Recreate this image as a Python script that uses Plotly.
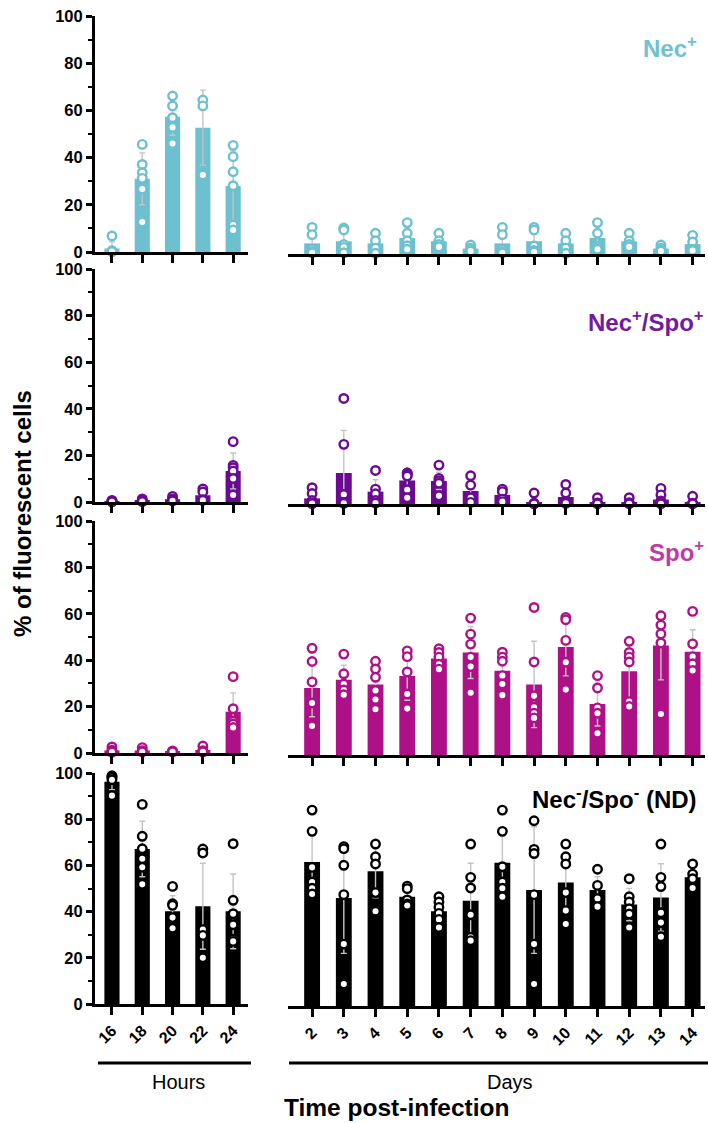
import plotly.graph_objects as go

# ---------------- data ----------------
hours = ["16", "18", "20", "22", "24"]
days = ["2", "3", "4", "5", "6", "7", "8", "9", "10", "11", "12", "13", "14"]

# Nec+
nec_h_mean = [1.5, 31.0, 57.3, 52.7, 28.0]
nec_h_sd = [2.8, 11.0, 7.8, 15.9, 14.9]
nec_h_pts = [[6.8, 0.5, 0.4, 0.3, 0.2], [45.6, 37.1, 33.6, 31.2, 26.7, 12.7],
             [66.1, 61.9, 56.9, 52.8, 46.0], [64.4, 61.9, 32.6],
             [45.2, 40.4, 34.0, 28.1, 11.4, 9.3]]
nec_d_mean = [4.5, 5.4, 4.5, 6.8, 5.4, 2.3, 4.5, 5.4, 4.5, 6.8, 5.4, 2.3, 4.2]
nec_d_sd = [4.9, 4.6, 3.6, 4.4, 2.4, 1.2, 4.9, 4.8, 3.6, 5.1, 2.4, 1.2, 2.9]
nec_d_pts = [[11.3, 8.2, 2.0, 1.0, 0.5], [11.0, 10.2, 4.0, 2.8, 0.5], [8.8, 5.6, 2.5, 0.3],
             [13.3, 8.8, 5.6, 3.5, 2.0], [8.8, 5.6, 4.0, 3.0], [3.8, 2.5, 1.6, 1.2],
             [11.3, 8.2, 2.0, 1.0, 0.5], [11.3, 10.2, 3.4, 1.5, 0.8], [8.8, 5.6, 2.5, 0.3],
             [13.3, 8.8, 3.0, 2.0], [8.8, 5.6, 4.0, 3.0], [3.8, 2.5, 1.6, 1.2],
             [7.9, 5.1, 2.0, 1.5]]

# Nec+/Spo+
ns_h_mean = [0.4, 0.6, 1.2, 2.9, 13.3]
ns_h_sd = [0.25, 0.5, 0.8, 2.5, 7.7]
ns_h_pts = [[0.7, 0.5, 0.3, 0.2, 0.1], [1.3, 0.6, 0.4, 0.2], [2.4, 1.3, 0.8, 0.5],
            [5.6, 4.3, 1.0, 0.7], [25.9, 15.7, 14.7, 13.3, 10.1, 3.0]]
ns_d_mean = [2.4, 13.3, 5.3, 10.1, 9.9, 5.6, 3.9, 0.8, 3.0, 0.7, 0.7, 1.9, 0.9]
ns_d_sd = [2.7, 18.3, 5.1, 4.3, 3.7, 5.1, 2.5, 2.3, 3.4, 1.2, 1.2, 2.6, 1.6]
ns_d_pts = [[7.0, 4.5, 1.5, 0.5, 0.3, 0.2], [45.3, 25.6, 4.1, 0.7, 0.5, 0.3],
            [14.4, 6.4, 4.4, 1.5, 0.4], [13.3, 13.3, 12.5, 12.0, 6.1, 2.7],
            [16.7, 11.0, 10.0, 8.9, 3.5], [12.1, 8.1, 2.7, 0.7], [6.4, 5.3, 2.1, 1.0],
            [4.7, 0.3, 0.2, 0.1], [8.4, 4.7, 0.7, 0.5, 0.3], [2.7, 0.5, 0.2, 0.1],
            [2.7, 0.6, 0.3, 0.1], [6.7, 3.9, 1.3, 0.5, 0.2, 0.1], [3.3, 0.3, 0.2, 0.1]]

# Spo+
spo_h_mean = [1.1, 1.1, 0.7, 1.3, 17.8]
spo_h_sd = [0.9, 0.8, 0.2, 1.2, 8.1]
spo_h_pts = [[2.6, 1.2, 0.8, 0.5, 0.4], [2.3, 1.0, 0.7, 0.5], [0.9, 0.6, 0.5],
             [3.0, 1.0, 0.6, 0.5], [32.9, 19.1, 13.7, 12.5, 11.0]]
spo_d_mean = [28.9, 32.4, 30.4, 34.0, 41.6, 44.2, 36.3, 30.4, 46.6, 22.0, 36.1, 47.2, 44.5]
spo_d_sd = [12.4, 6.3, 7.5, 10.4, 3.5, 11.2, 7.0, 18.6, 12.5, 9.5, 12.1, 14.8, 9.5]
spo_d_pts = [[46.0, 40.3, 31.5, 22.4, 12.5], [43.5, 35.0, 30.6, 28.0, 26.0],
             [40.4, 37.1, 33.5, 27.8, 23.9, 19.7], [44.9, 42.4, 35.8, 26.3, 20.0],
             [45.8, 44.2, 42.2, 39.1, 37.0], [59.0, 52.1, 47.8, 42.2, 38.1, 26.8],
             [44.3, 42.2, 40.4, 34.2, 30.6, 25.8], [63.6, 40.1, 25.5, 20.6, 18.0, 16.0],
             [59.3, 58.3, 49.4, 40.0, 28.2], [34.2, 28.9, 20.3, 18.0, 9.4],
             [49.0, 44.2, 42.2, 40.1, 23.0, 20.9], [60.0, 56.0, 52.2, 48.3, 17.7],
             [61.9, 47.9, 42.4, 39.3, 36.4]]

# Nec-/Spo- (ND)
nd_h_mean = [96.2, 67.1, 40.1, 42.3, 40.1]
nd_h_sd = [3.4, 12.0, 6.8, 18.6, 16.2]
nd_h_pts = [[98.8, 98.5, 98.0, 97.1, 90.2], [86.4, 72.6, 67.2, 62.9, 59.2, 51.8],
            [50.9, 43.4, 42.7, 37.4, 32.8], [67.1, 65.4, 32.2, 29.7, 20.0],
            [69.4, 44.9, 39.1, 34.3, 28.0, 27.1]]
nd_d_mean = [62.3, 46.8, 58.3, 47.3, 41.0, 45.6, 62.0, 50.2, 53.5, 50.2, 43.9, 47.0, 55.7]
nd_d_sd = [12.8, 24.0, 11.5, 3.8, 4.7, 16.2, 13.5, 27.4, 13.0, 5.8, 7.0, 14.6, 4.4]
nd_d_pts = [[84.8, 75.6, 60.0, 53.7, 51.0, 48.5], [69.0, 68.1, 60.9, 48.2, 26.8, 9.5],
            [70.1, 64.6, 61.5, 49.1, 41.0], [51.9, 50.8, 45.9, 44.2, 43.5],
            [47.3, 45.0, 42.7, 40.1, 37.5, 34.0], [70.1, 55.7, 51.1, 39.5, 29.7, 28.3],
            [84.8, 75.6, 60.3, 53.7, 51.0, 47.3], [80.2, 67.8, 66.0, 48.2, 26.8, 9.5],
            [70.1, 64.6, 61.5, 49.1, 41.3, 35.5], [59.2, 52.2, 46.5, 43.0],
            [55.1, 47.3, 45.0, 42.1, 39.8, 34.0], [70.1, 55.7, 51.7, 40.4, 36.1, 30.0],
            [61.5, 57.1, 55.1, 51.1]]

panel_labels = ["Nec<sup>+</sup>", "Nec<sup>+</sup>/Spo<sup>+</sup>", "Spo<sup>+</sup>",
                "Nec<sup>-</sup>/Spo<sup>-</sup> (ND)"]
y_ticks = [0, 20, 40, 60, 80, 100]

# ---------------- styling ----------------
W, H = 708, 1123
FONT = "Liberation Sans, Arial, Helvetica, sans-serif"
bar_colors = ["#6cc0d0", "#6a0a8f", "#ae1187", "#000000"]
label_colors = ["#6ec2d2", "#741aa0", "#c03aa6", "#000000"]
panel_px = [(16, 252), (269, 502), (521, 753), (773, 1004)]   # (top, bottom) pixel rows
label_pos = [(699, 47), (706, 321), (706, 551), (699, 798)]

panels = [
    (nec_h_mean, nec_h_sd, nec_h_pts, nec_d_mean, nec_d_sd, nec_d_pts),
    (ns_h_mean, ns_h_sd, ns_h_pts, ns_d_mean, ns_d_sd, ns_d_pts),
    (spo_h_mean, spo_h_sd, spo_h_pts, spo_d_mean, spo_d_sd, spo_d_pts),
    (nd_h_mean, nd_h_sd, nd_h_pts, nd_d_mean, nd_d_sd, nd_d_pts),
]

fig = go.Figure()
layout = {}


def ax_name(n, kind):
    return kind if n == 1 else f"{kind}{n}"


def ax_key(n, kind):
    return f"{kind}axis" if n == 1 else f"{kind}axis{n}"


for i, (hm, hs, hp, dm, ds, dp) in enumerate(panels):
    col = bar_colors[i]
    top, bot = panel_px[i]
    for j, (cats, mean, sd, pts) in enumerate([(hours, hm, hs, hp), (days, dm, ds, dp)]):
        n = 2 * i + j + 1
        xa, ya = ax_name(n, "x"), ax_name(n, "y")
        fig.add_trace(go.Bar(
            x=cats, y=mean, xaxis=xa, yaxis=ya, width=0.5,
            marker=dict(color=col, line=dict(width=0)),
            error_y=dict(type="data", array=sd, color="#c4c4c4", thickness=1.4, width=3),
            showlegend=False,
        ))
        px_ = [c for c, p in zip(cats, pts) for _ in p]
        py_ = [v for p in pts for v in p]
        fig.add_trace(go.Scatter(
            x=px_, y=py_, xaxis=xa, yaxis=ya, mode="markers", cliponaxis=False,
            marker=dict(symbol="circle", size=8.5, color="white",
                        line=dict(color=col, width=2.4)),
            showlegend=False,
        ))
        shift = 0 if j == 0 else 2
        ydom = [1 - (bot + shift) / H, 1 - (top + shift) / H]
        if j == 0:
            xdom = [95 / W, 248 / W]
            xrange = [-0.56, 4.49]
        else:
            xdom = [288 / W, 705 / W]
            xrange = [-0.76, 12.39]
        bottom = (i == 3)
        layout[ax_key(n, "x")] = dict(
            domain=xdom, anchor=ya, type="category", categoryorder="array",
            categoryarray=cats, range=xrange, showline=True, linecolor="black",
            linewidth=3, ticks="outside", ticklen=8, tickwidth=2.6, tickcolor="black",
            showgrid=False, zeroline=False, showticklabels=bottom, tickangle=-45,
            automargin=False,
            tickfont=dict(family=FONT, size=16, color="black", weight="bold"),
        )
        layout[ax_key(n, "y")] = dict(
            domain=ydom, anchor=xa, range=[0, 100], showgrid=False, zeroline=False,
            visible=(j == 0), showline=True, linecolor="black", linewidth=3,
            ticks="outside", ticklen=6, tickwidth=2.6, tickcolor="black",
            tickvals=y_ticks, automargin=False,
            tickfont=dict(family=FONT, size=16.5, color="black", weight="bold"),
            minor=dict(ticks="outside", ticklen=4, tickwidth=2.2, tickcolor="black", dtick=10),
        )

annotations = []
for i, lab in enumerate(panel_labels):
    lx, ly = label_pos[i]
    annotations.append(dict(
        text=lab, x=lx / W, y=1 - ly / H, xref="paper", yref="paper",
        xanchor="right", yanchor="middle", showarrow=False,
        font=dict(family=FONT, size=24, color=label_colors[i], weight="bold"),
    ))
annotations.append(dict(
    text="% of fluorescent cells", x=22 / W, y=1 - 514 / H, xref="paper", yref="paper",
    textangle=-90, showarrow=False, xanchor="center", yanchor="middle",
    font=dict(family=FONT, size=24, color="black", weight="bold"),
))
annotations.append(dict(
    text="Hours", x=178 / W, y=1 - 1082 / H, xref="paper", yref="paper",
    showarrow=False, xanchor="center", yanchor="middle",
    font=dict(family=FONT, size=20, color="black"),
))
annotations.append(dict(
    text="Days", x=510 / W, y=1 - 1082 / H, xref="paper", yref="paper",
    showarrow=False, xanchor="center", yanchor="middle",
    font=dict(family=FONT, size=20, color="black"),
))
annotations.append(dict(
    text="Time post-infection", x=397 / W, y=1 - 1107 / H, xref="paper", yref="paper",
    showarrow=False, xanchor="center", yanchor="middle",
    font=dict(family=FONT, size=24.5, color="black", weight="bold"),
))

shapes = [
    dict(type="line", xref="paper", yref="paper", x0=98 / W, x1=251 / W,
         y0=1 - 1063 / H, y1=1 - 1063 / H, line=dict(color="black", width=3)),
    dict(type="line", xref="paper", yref="paper", x0=289 / W, x1=708 / W,
         y0=1 - 1063 / H, y1=1 - 1063 / H, line=dict(color="black", width=3)),
]

fig.update_layout(
    width=W, height=H, margin=dict(l=0, r=0, t=0, b=0, pad=0, autoexpand=False),
    autosize=False,
    paper_bgcolor="white", plot_bgcolor="white",
    annotations=annotations, shapes=shapes, bargap=0.5,
    font=dict(family=FONT),
    **layout,
)

fig.write_html(
    "out.html",
    config={"responsive": False, "displayModeBar": False},
    post_script="document.body.style.margin='0';document.body.style.overflow='hidden';",
)
